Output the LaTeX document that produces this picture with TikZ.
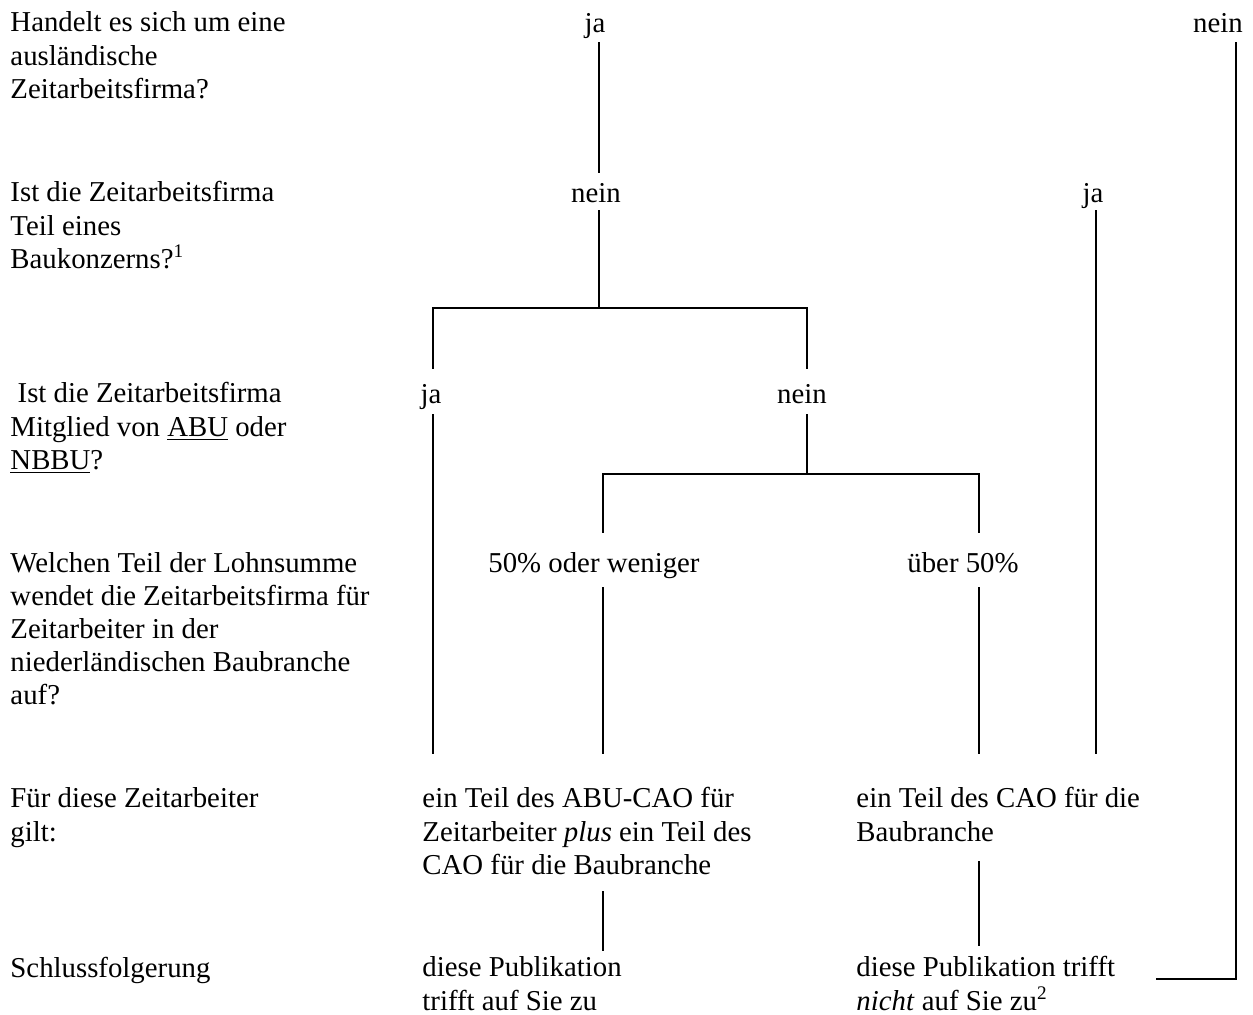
\documentclass[tikz,border=0pt]{standalone}
\usepackage{fontspec}
\setmainfont{Liberation Serif}
\begin{document}
\begin{tikzpicture}[x=0.41667pt,y=-0.41667pt,
  txt/.style={inner sep=0pt,anchor=base west,align=left,font=\fontsize{12}{13.8}\selectfont},
  lbl/.style={inner sep=0pt,anchor=base,font=\fontsize{12}{13.8}\selectfont},
  conn/.style={line width=0.85pt,line cap=rect}]
\useasboundingbox (0,0) rectangle (1253,1014);
% left column questions (anchored at the baseline of their last line)
\node[txt] (q1) at (10,98.2) {Handelt es sich um eine\\ausländische\\Zeitarbeitsfirma?};
\node[txt] (q2) at (10,268.2) {Ist die Zeitarbeitsfirma\\Teil eines\\Baukonzerns?\textsuperscript{1}};
\node[txt] (q3) at (10,469.2) {\ Ist die Zeitarbeitsfirma\\Mitglied von \underline{ABU} oder\\\underline{NBBU}?};
\node[txt] (q4) at (10,704.5) {Welchen Teil der Lohnsumme\\wendet die Zeitarbeitsfirma für\\Zeitarbeiter in der\\niederländischen Baubranche\\auf?};
\node[txt] (q5) at (10,841.1) {Für diese Zeitarbeiter\\gilt:};
\node[txt] (q6) at (10,977) {Schlussfolgerung};
% answer labels
\node[lbl] (a1) at (595,32) {ja};
\node[lbl] (a2) at (1218,32) {nein};
\node[lbl] (b1) at (596,202) {nein};
\node[lbl] (b2) at (1093,202) {ja};
\node[lbl] (c1) at (431,403) {ja};
\node[lbl] (c2) at (802,403) {nein};
\node[lbl] (d1) at (594,572) {50\% oder weniger};
\node[lbl] (d2) at (963,572) {über 50\%};
% results
\node[txt] (r1) at (422,874.2) {ein Teil des ABU-CAO für\\Zeitarbeiter \textit{plus} ein Teil des\\CAO für die Baubranche};
\node[txt] (r2) at (856,841.1) {ein Teil des CAO für die\\Baubranche};
\node[txt] (s1) at (422,1010.1) {diese Publikation\\trifft auf Sie zu};
\node[txt] (s2) at (856,1010.1) {diese Publikation trifft\\\textit{nicht} auf Sie zu\textsuperscript{2}};
% connector end points
\coordinate (p1) at (599,43);   \coordinate (p2) at (599,172);
\coordinate (p3) at (1236,43);  \coordinate (p4) at (1236,979); \coordinate (p5) at (1157,979);
\coordinate (p6) at (599,211);  \coordinate (p7) at (599,308);
\coordinate (p8) at (433,308);  \coordinate (p9) at (807,308);
\coordinate (p10) at (433,368); \coordinate (p11) at (807,368);
\coordinate (p12) at (433,415); \coordinate (p13) at (433,753);
\coordinate (p14) at (807,415); \coordinate (p15) at (807,474);
\coordinate (p16) at (603,474); \coordinate (p17) at (979,474);
\coordinate (p18) at (603,532); \coordinate (p19) at (979,532);
\coordinate (p20) at (603,588); \coordinate (p21) at (603,753);
\coordinate (p22) at (979,588); \coordinate (p23) at (979,753);
\coordinate (p24) at (1096,211); \coordinate (p25) at (1096,753);
\coordinate (p26) at (603,892); \coordinate (p27) at (603,950);
\coordinate (p28) at (979,862); \coordinate (p29) at (979,945);
% connectors
\draw[conn] (p1) -- (p2);
\draw[conn] (p3) -- (p4) -- (p5);
\draw[conn] (p6) -- (p7);
\draw[conn] (p10) -- (p8) -- (p9) -- (p11);
\draw[conn] (p12) -- (p13);
\draw[conn] (p14) -- (p15);
\draw[conn] (p18) -- (p16) -- (p17) -- (p19);
\draw[conn] (p20) -- (p21);
\draw[conn] (p22) -- (p23);
\draw[conn] (p24) -- (p25);
\draw[conn] (p26) -- (p27);
\draw[conn] (p28) -- (p29);
\end{tikzpicture}
\end{document}
